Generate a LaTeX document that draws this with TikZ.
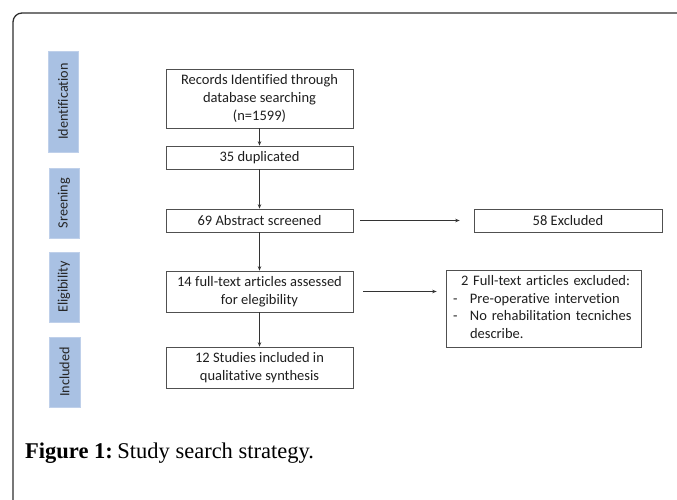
\documentclass[tikz,border=0pt]{standalone}
\usepackage{fontspec}
\setmainfont{Liberation Serif}
\newfontfamily\boxfont[Ligatures={NoCommon,NoContextual}]{Carlito}
\usetikzlibrary{arrows.meta}
\definecolor{boxline}{HTML}{505050}
\definecolor{stagefill}{HTML}{A9C1E3}
\definecolor{stageline}{HTML}{BFD0EA}
\definecolor{frameline}{HTML}{2E2E2E}
\definecolor{txt}{HTML}{1E1E1E}
\tikzset{
  flowbox/.style={draw=boxline, line width=0.7pt, rectangle, inner sep=0pt,
    align=center, text=txt, font=\boxfont\fontsize{14.5}{17.6}\selectfont},
  stagebox/.style={fill=stagefill, draw=stageline, line width=0.5pt, rectangle,
    inner sep=0pt},
  stagetext/.style={rotate=90, text=black!85, font=\boxfont\fontsize{14.2}{16}\selectfont},
  flowarrow/.style={draw=black!80, line width=0.6pt,
    -{Stealth[length=4.5pt,width=3.5pt]}}
}
\begin{document}
\begin{tikzpicture}[x=1pt,y=-1pt]
\useasboundingbox (0,0) rectangle (677,500);
\begin{scope}
  \clip (0,0) rectangle (677,500);
  \draw[frameline, line width=1.3pt, rounded corners=9pt] (13,13) rectangle (720,540);
\end{scope}

% stage labels
\node[stagebox, minimum width=30pt, minimum height=101pt] (sid) at (63,101.5) {};
\node[stagetext] at (sid.center) {Identification};
\node[stagebox, minimum width=30pt, minimum height=70pt] (ssc) at (64,203) {};
\node[stagetext] at (ssc.center) {Sreening};
\node[stagebox, minimum width=30pt, minimum height=70pt] (sel) at (64,287) {};
\node[stagetext] at (sel.center) {Eligibility};
\node[stagebox, minimum width=31pt, minimum height=70pt] (sin) at (64.5,372) {};
\node[stagetext] at (sin.center) {Included};

% main flow
\node[flowbox, minimum width=187pt, minimum height=59pt] (rec) at (259.5,98.5)
  {Records Identified through\\database searching\\(n=1599)};
\node[flowbox, minimum width=187pt, minimum height=23pt] (dup) at (259.5,157.5)
  {35 duplicated};
\node[flowbox, minimum width=187pt, minimum height=23pt] (abs) at (259.5,220.5)
  {69 Abstract screened};
\node[flowbox, minimum width=187pt, minimum height=41pt] (full) at (259.5,291.5)
  {14 full-text articles assessed\\for elegibility};
\node[flowbox, minimum width=187pt, minimum height=41pt] (inc) at (259.5,367.5)
  {12 Studies included in\\qualitative synthesis};

% exclusions
\node[flowbox, minimum width=188pt, minimum height=23pt] (exc) at (568,220.5)
  {58 Excluded};
\node[flowbox, text width=181pt, inner xsep=7pt, minimum height=77pt, align=left] (fexc) at (543.5,308.5)
  {\begin{tabular}{@{}p{17pt}@{}l@{}}
   \multicolumn{2}{@{}l@{}}{\hspace{8pt}2 Full-text articles excluded:}\\
   - & Pre-operative intervetion\\
   - & No rehabilitation tecniches\\
     & describe.
   \end{tabular}};

% connectors
\draw[flowarrow] (rec) -- (dup);
\draw[flowarrow] (dup) -- (abs);
\draw[flowarrow] (abs) -- (full);
\draw[flowarrow] (full) -- (inc);
\draw[flowarrow, shorten <=7pt, shorten >=14pt] (abs) -- (exc);
\draw[flowarrow, shorten <=10pt, shorten >=9pt] (full.east) -- (full.east -| fexc.west);

% caption
\node[anchor=base west, inner sep=0pt, font=\fontsize{22.5}{26}\selectfont] (cap) at (25,458)
  {\textbf{Figure 1:}\hspace{0.2em}Study search strategy.};
\end{tikzpicture}
\end{document}
